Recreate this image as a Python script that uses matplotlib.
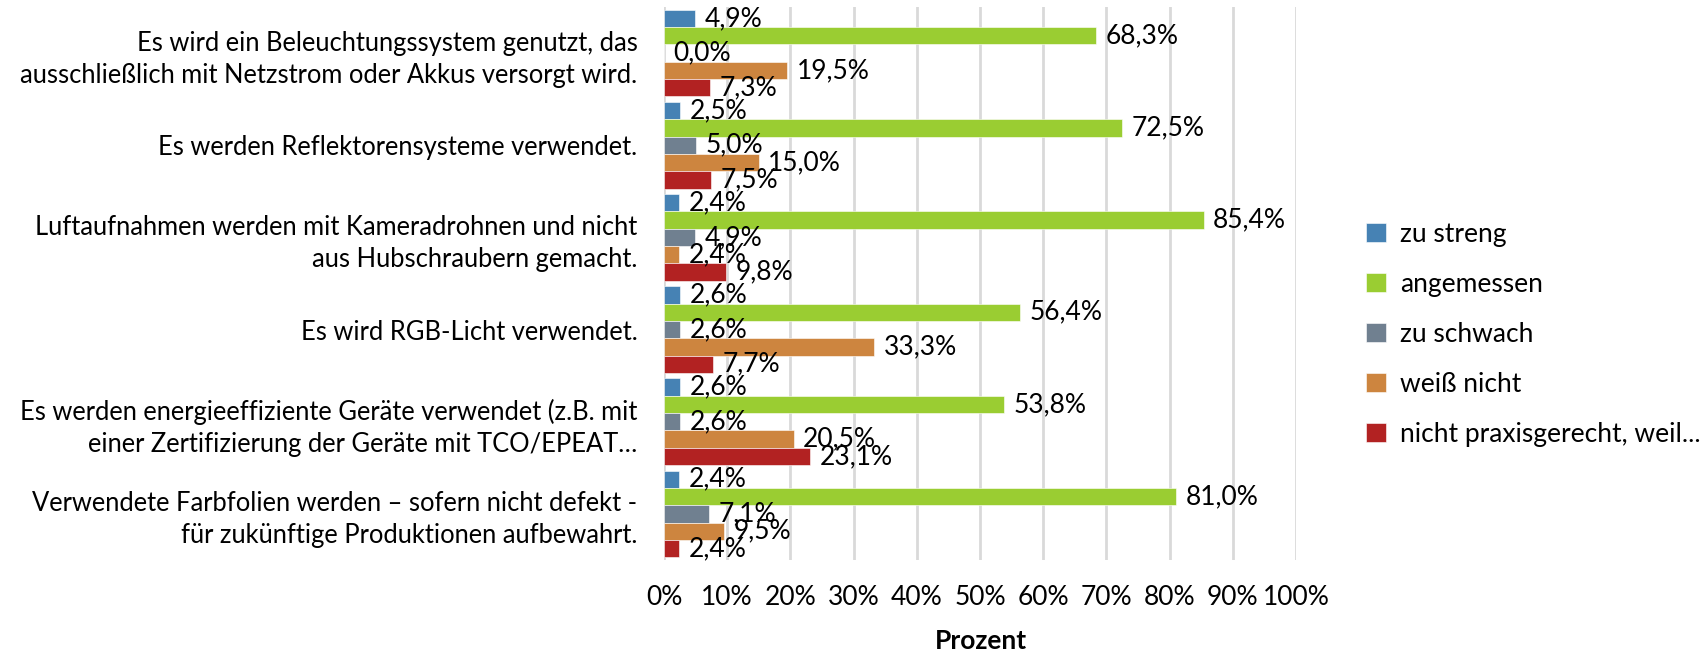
import numpy as np
import matplotlib.pyplot as plt

plt.rcParams['font.family'] = ['Lato', 'DejaVu Sans']

categories = [
    'Es wird ein Beleuchtungssystem genutzt, das\nausschließlich mit Netzstrom oder Akkus versorgt wird.',
    'Es werden Reflektorensysteme verwendet.',
    'Luftaufnahmen werden mit Kameradrohnen und nicht\naus Hubschraubern gemacht.',
    'Es wird RGB-Licht verwendet.',
    'Es werden energieeffiziente Geräte verwendet (z.B. mit\neiner Zertifizierung der Geräte mit TCO/EPEAT…',
    'Verwendete Farbfolien werden – sofern nicht defekt -\nfür zukünftige Produktionen aufbewahrt.',
]
series_names = ['zu streng', 'angemessen', 'zu schwach', 'weiß nicht', 'nicht praxisgerecht, weil...']
zu_streng = [4.9, 2.5, 2.4, 2.6, 2.6, 2.4]
angemessen = [68.3, 72.5, 85.4, 56.4, 53.8, 81.0]
zu_schwach = [0.0, 5.0, 4.9, 2.6, 2.6, 7.1]
weiss_nicht = [19.5, 15.0, 2.4, 33.3, 20.5, 9.5]
nicht_praxis = [7.3, 7.5, 9.8, 7.7, 23.1, 2.4]
colors = ['#4682B4', '#9ACD32', '#708090', '#CD853F', '#B22222']

all_series = [zu_streng, angemessen, zu_schwach, weiss_nicht, nicht_praxis]

fig = plt.figure(figsize=(17.04, 6.51), dpi=100)
ax = fig.add_axes([664/1704, 1-560/651, 632/1704, 553/651])

fs = 19
h = 0.188
y = np.arange(len(categories))
for k, (vals, name, c) in enumerate(zip(all_series, series_names, colors)):
    pos = y + (k - 2) * h
    ax.barh(pos, vals, height=h, color=c, label=name, zorder=2,
            edgecolor='white', linewidth=0.4)
    for p, v in zip(pos, vals):
        ax.text(v + 1.5, p, f'{v:.1f}%'.replace('.', ','), va='center', ha='left',
                fontsize=fs, zorder=3)

ax.set_xlim(0, 100)
ax.set_ylim(len(categories) - 0.5, -0.5)
ax.set_xticks(np.arange(0, 101, 10))
ax.set_xticklabels([f'{t}%' for t in range(0, 101, 10)], fontsize=fs)
ax.set_yticks(y)
ax.set_yticklabels(categories, fontsize=18.4, ha='right', multialignment='right',
                   linespacing=1.35)
ax.tick_params(axis='both', length=0)
ax.tick_params(axis='x', pad=18)
ax.tick_params(axis='y', pad=19)
ax.grid(axis='x', color='#D9D9D9', linewidth=2, zorder=0)
for s in ax.spines.values():
    s.set_visible(False)

fig.text(981/1704, 1-641/651, 'Prozent', ha='center', va='center', fontsize=fs, fontweight='bold')

leg = fig.legend(loc='upper left', bbox_to_anchor=(1342/1704, 1-198/651), frameon=False,
                 fontsize=fs, handlelength=0.75, handleheight=0.75, handletextpad=0.55,
                 labelspacing=0.95)

fig.savefig('out.png', dpi=100)
